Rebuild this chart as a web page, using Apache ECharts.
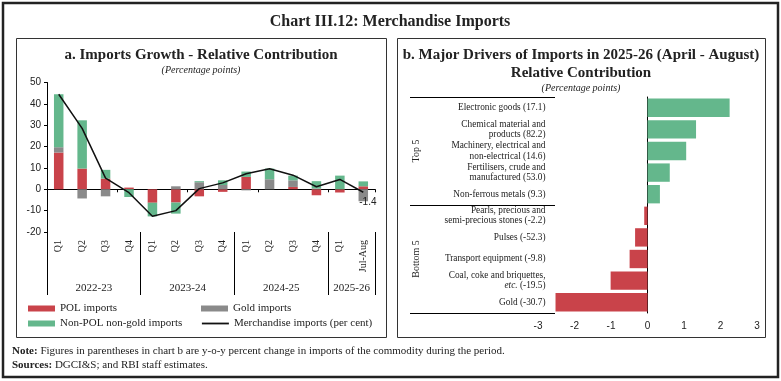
<!DOCTYPE html>
<html><head><meta charset="utf-8">
<script src="https://cdn.jsdelivr.net/npm/echarts@6/dist/echarts.min.js"></script>
<style>html,body{margin:0;padding:0;background:#fff}#c{width:781px;height:381px}</style>
</head><body><div id="c"></div>
<script>
// ---- Panel a data ----
const quarters = ['Q1','Q2','Q3','Q4','Q1','Q2','Q3','Q4','Q1','Q2','Q3','Q4','Q1','Jul-Aug'];
const fiscalYears = ['2022-23','2023-24','2024-25','2025-26'];
const yearSizes = [4,4,4,2];
const polImports    = [17.2, 9.7, 5.0, 0.8, -6.3, -6.2, -3.3, -1.2, 5.8, 0.0, 1.1, -2.8, -1.5, 1.4];
const goldImports   = [2.5, -4.3, -3.3, 0.0, 0.0, 1.4, 3.3, 2.0, -0.5, 4.7, 3.1, 0.4, 0.0, -5.6];
const nonPolNonGold = [24.8, 22.6, 4.1, -3.6, -6.4, -5.2, 0.5, 2.2, 2.5, 5.0, 2.2, 3.4, 6.4, 2.3];
const merchImports  = [44.5, 28.5, 5.2, -1.6, -12.6, -10.0, 0.3, 3.0, 7.3, 9.6, 6.6, 1.2, 4.6, -1.4];
const leftYMin = -20, leftYMax = 50, leftYStep = 10;

// ---- Panel b data ----
const drivers = [
  'Electronic goods (17.1)',
  'Chemical material and\nproducts (82.2)',
  'Machinery, electrical and\nnon-electrical (14.6)',
  'Fertilisers, crude and\nmanufactured (53.0)',
  'Non-ferrous metals (9.3)',
  'Pearls, precious and\nsemi-precious stones (-2.2)',
  'Pulses (-52.3)',
  'Transport equipment (-9.8)',
  'Coal, coke and briquettes,\netc. (-19.5)',
  'Gold (-30.7)'
];
const driverValues = [2.25, 1.33, 1.06, 0.61, 0.34, -0.09, -0.34, -0.49, -1.01, -2.52];
const driverGroups = ['Top 5','Bottom 5'];
const rightXMin = -3, rightXMax = 3, rightXStep = 1;

const SERIF = "'Liberation Serif','DejaVu Serif',serif";
const SANS = "'Liberation Sans','DejaVu Sans',Arial,sans-serif";
const RED = '#C9434A', GREEN = '#64B78C', GRAY = '#8A8A8A', TXT = '#222';

const bounds = [0]; yearSizes.forEach(s => bounds.push(bounds[bounds.length-1] + s));
const centers = yearSizes.map((s, i) => bounds[i] + s / 2);

const G1 = {left: 538, top: 97, width: 219, height: 216};
const zeroOffset = G1.width * (0 - rightXMin) / (rightXMax - rightXMin);

const chart = echarts.init(document.getElementById('c'), null, {renderer: 'canvas'});

const legendText = {fontFamily: SERIF, fontSize: 11, color: TXT, width: 139, lineHeight: 13};

const option = {
  animation: false,
  backgroundColor: '#fff',
  grid: [
    {left: 47, top: 82.5, width: 328, height: 149.5, containLabel: false},
    Object.assign({containLabel: false}, G1)
  ],
  legend: {
    data: [
      {name: 'POL imports', icon: 'rect'},
      {name: 'Gold imports', icon: 'rect'},
      {name: 'Non-POL non-gold imports', icon: 'rect'},
      {name: 'Merchandise imports (per cent)', itemStyle: {opacity: 0}, lineStyle: {width: 1.8, color: '#111'}}
    ],
    orient: 'horizontal', left: 28, top: 302, width: 360,
    itemWidth: 27, itemHeight: 6, itemGap: 2, itemTextGap: 4, padding: 0,
    textStyle: legendText
  },
  xAxis: [
    {type: 'category', gridIndex: 0, data: quarters, position: 'bottom',
     axisLine: {onZero: true, lineStyle: {color: '#000', width: 1}},
     axisTick: {show: true, length: 3, lineStyle: {color: '#000'}},
     axisLabel: {show: false}, splitLine: {show: false}},
    {type: 'category', gridIndex: 0, data: quarters, position: 'bottom',
     axisLine: {show: false, onZero: false}, axisTick: {show: false},
     axisLabel: {rotate: 90, margin: 8, fontFamily: SERIF, fontSize: 10, color: TXT, interval: 0},
     splitLine: {show: false}},
    {type: 'value', gridIndex: 0, min: 0, max: quarters.length, position: 'bottom',
     axisLine: {show: false, onZero: false},
     axisTick: {show: true, customValues: bounds, length: 63, lineStyle: {color: '#000'}},
     axisLabel: {customValues: centers, margin: 51, fontFamily: SERIF, fontSize: 11, color: TXT,
       formatter: v => fiscalYears[centers.indexOf(v)] || ''},
     splitLine: {show: false}},
    {type: 'value', gridIndex: 1, min: rightXMin, max: rightXMax, interval: rightXStep,
     axisLine: {show: false, onZero: false}, axisTick: {show: false}, splitLine: {show: false},
     axisLabel: {margin: 8, fontFamily: SANS, fontSize: 10, color: TXT}}
  ],
  yAxis: [
    {type: 'value', gridIndex: 0, min: leftYMin, max: leftYMax, interval: leftYStep,
     axisLine: {show: true, onZero: false, lineStyle: {color: '#000'}},
     axisTick: {show: true, length: 3, lineStyle: {color: '#000'}},
     axisLabel: {margin: 6, fontFamily: SANS, fontSize: 10, color: TXT},
     splitLine: {show: false}},
    {type: 'category', gridIndex: 1, data: drivers, inverse: true, position: 'left', offset: -zeroOffset,
     axisLine: {show: true, onZero: false, lineStyle: {color: '#000'}},
     axisTick: {show: false},
     axisLabel: {margin: 102, fontFamily: SERIF, fontSize: 9.3, lineHeight: 10.5, color: TXT, align: 'right',
       formatter: v => v.replace('etc.', '{i|etc.}'),
       rich: {i: {fontFamily: SERIF, fontSize: 9.3, fontStyle: 'italic', color: TXT, lineHeight: 10.5}}},
     splitLine: {show: false}},
    {type: 'category', gridIndex: 1, data: driverGroups, inverse: true, position: 'left', offset: -17,
     axisLine: {show: false, onZero: false},
     axisTick: {show: true, length: 145, lineStyle: {color: '#000'}},
     axisLabel: {rotate: 90, margin: 134, fontFamily: SERIF, fontSize: 10, color: TXT},
     splitLine: {show: false}}
  ],
  series: [
    {name: 'POL imports', type: 'bar', xAxisIndex: 0, yAxisIndex: 0, stack: 'a', data: polImports,
     barWidth: 9.5, itemStyle: {color: RED}},
    {name: 'Gold imports', type: 'bar', xAxisIndex: 0, yAxisIndex: 0, stack: 'a', data: goldImports,
     barWidth: 9.5, itemStyle: {color: GRAY}},
    {name: 'Non-POL non-gold imports', type: 'bar', xAxisIndex: 0, yAxisIndex: 0, stack: 'a', data: nonPolNonGold,
     barWidth: 9.5, itemStyle: {color: GREEN}},
    {name: 'Merchandise imports (per cent)', type: 'line', xAxisIndex: 0, yAxisIndex: 0, symbol: 'none',
     lineStyle: {color: '#111', width: 1.5}, itemStyle: {color: '#111'}, z: 5,
     endLabel: {show: true, formatter: p => String(p.value), offset: [-4, 10], distance: 0,
       fontFamily: SANS, fontSize: 10, color: TXT},
     data: merchImports},
    {name: 'drivers', type: 'bar', xAxisIndex: 3, yAxisIndex: 1, data: driverValues,
     barCategoryGap: '15%',
     itemStyle: {color: p => p.value >= 0 ? GREEN : RED}}
  ],
  graphic: [
    {type: 'rect', shape: {x: 3, y: 3, width: 775, height: 374}, style: {fill: 'none', stroke: '#222', lineWidth: 2.5}, silent: true},
    {type: 'rect', shape: {x: 16.5, y: 38.5, width: 370, height: 299}, style: {fill: 'none', stroke: '#333', lineWidth: 1}, silent: true},
    {type: 'rect', shape: {x: 397.5, y: 38.5, width: 368, height: 299}, style: {fill: 'none', stroke: '#333', lineWidth: 1}, silent: true},
    {type: 'text', x: 390, y: 22, style: {text: 'Chart III.12: Merchandise Imports', fontFamily: SERIF, fontSize: 16, fontWeight: 'bold', fill: TXT, textAlign: 'center', textVerticalAlign: 'middle'}},
    {type: 'text', x: 201, y: 55, style: {text: 'a. Imports Growth - Relative Contribution', fontFamily: SERIF, fontSize: 15, fontWeight: 'bold', fill: TXT, textAlign: 'center', textVerticalAlign: 'middle'}},
    {type: 'text', x: 201, y: 70, style: {text: '(Percentage points)', fontFamily: SERIF, fontSize: 10, fontStyle: 'italic', fill: TXT, textAlign: 'center', textVerticalAlign: 'middle'}},
    {type: 'text', x: 581, y: 55, style: {text: 'b. Major Drivers of Imports in 2025-26 (April - August)', fontFamily: SERIF, fontSize: 15, fontWeight: 'bold', fill: TXT, textAlign: 'center', textVerticalAlign: 'middle'}},
    {type: 'text', x: 581, y: 73, style: {text: 'Relative Contribution', fontFamily: SERIF, fontSize: 15, fontWeight: 'bold', fill: TXT, textAlign: 'center', textVerticalAlign: 'middle'}},
    {type: 'text', x: 581, y: 88, style: {text: '(Percentage points)', fontFamily: SERIF, fontSize: 10, fontStyle: 'italic', fill: TXT, textAlign: 'center', textVerticalAlign: 'middle'}},
    {type: 'text', x: 12, y: 351, style: {text: '{b|Note:} Figures in parentheses in chart b are y-o-y percent change in imports of the commodity during the period.',
      rich: {b: {fontWeight: 'bold', fontFamily: SERIF, fontSize: 11, fill: TXT}}, fontFamily: SERIF, fontSize: 11, fill: TXT, textVerticalAlign: 'middle'}},
    {type: 'text', x: 12, y: 365, style: {text: '{b|Sources:} DGCI&S; and RBI staff estimates.',
      rich: {b: {fontWeight: 'bold', fontFamily: SERIF, fontSize: 11, fill: TXT}}, fontFamily: SERIF, fontSize: 11, fill: TXT, textVerticalAlign: 'middle'}}
  ]
};
chart.setOption(option);
</script></body></html>
